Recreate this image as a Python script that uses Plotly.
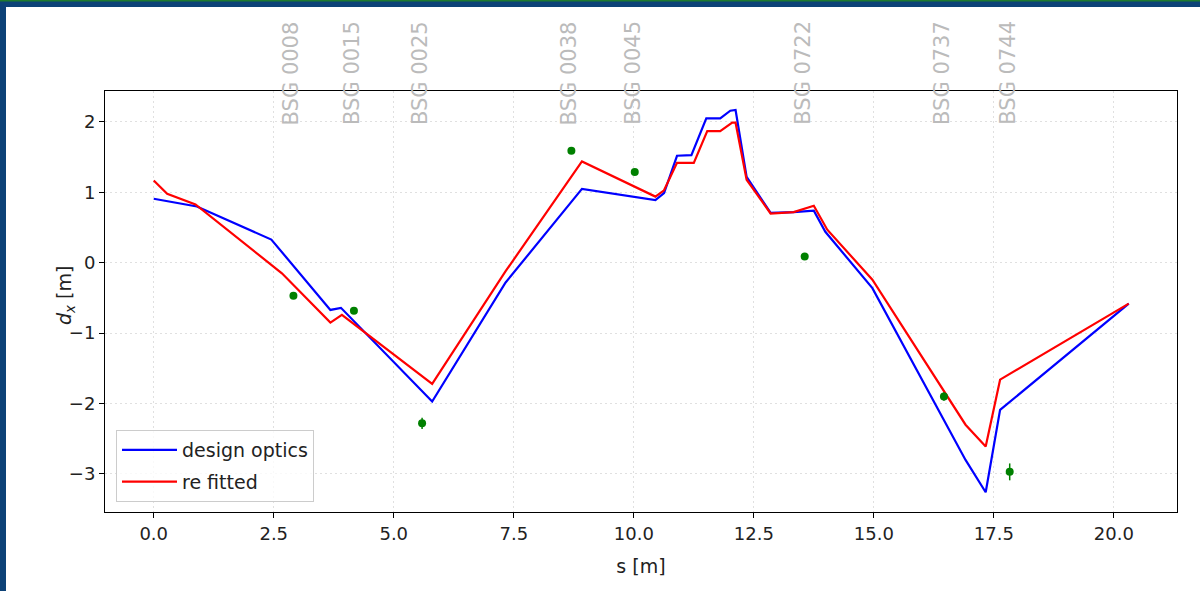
import plotly.graph_objects as go

# ---- data ----
design_s = [0, 0.9, 2.45, 3.68, 3.9, 5.8, 7.33, 8.92, 10.45, 10.63, 10.9, 11.2, 11.51, 11.8, 12.01, 12.12,
            12.35, 12.85, 13.33, 13.75, 13.99, 14.97, 16.91, 17.33, 17.63, 20.31]
design_dx = [0.91, 0.80, 0.33, -0.67, -0.64, -1.97, -0.28, 1.05, 0.89, 0.99, 1.52, 1.53, 2.05, 2.05, 2.16, 2.17,
             1.22, 0.71, 0.72, 0.74, 0.44, -0.36, -2.80, -3.26, -2.09, -0.58]

fit_s = [0, 0.28, 0.87, 2.4, 2.67, 3.68, 3.92, 5.8, 7.33, 8.92, 10.45, 10.63, 10.9, 11.25, 11.53, 11.8, 12.05,
         12.12, 12.35, 12.85, 13.33, 13.75, 14.03, 14.97, 16.91, 17.33, 17.63, 20.31]
fit_dx = [1.17, 0.98, 0.83, 0.0, -0.15, -0.85, -0.74, -1.72, -0.12, 1.44, 0.94, 1.03, 1.42, 1.42, 1.87, 1.87, 1.99,
          1.99, 1.18, 0.70, 0.72, 0.81, 0.47, -0.24, -2.30, -2.61, -1.66, -0.58]

meas_s = [2.91, 4.17, 5.59, 8.70, 10.02, 13.56, 16.46, 17.83]
meas_dx = [-0.47, -0.68, -2.28, 1.59, 1.29, 0.09, -1.90, -2.97]
meas_err = [0.03, 0.03, 0.08, 0.03, 0.02, 0.04, 0.06, 0.12]
meas_names = ["BSG 0008", "BSG 0015", "BSG 0025", "BSG 0038", "BSG 0045", "BSG 0722", "BSG 0737", "BSG 0744"]

x_ticks = [0, 2.5, 5, 7.5, 10, 12.5, 15, 17.5, 20]
x_ticktext = ["0.0", "2.5", "5.0", "7.5", "10.0", "12.5", "15.0", "17.5", "20.0"]
y_ticks = [-3, -2, -1, 0, 1, 2]
y_ticktext = ["\u22123", "\u22122", "\u22121", "0", "1", "2"]

FONT = "DejaVu Sans"
W, H = 1200, 591
ML, MR, MT, MB = 105, 23, 91, 79
PW, PH = W - ML - MR, H - MT - MB


def px2paper_x(px):
    return (px - ML) / PW


def py2paper_y(py):
    return (H - MB - py) / PH


fig = go.Figure()
fig.add_trace(go.Scatter(x=design_s, y=design_dx, mode="lines", name="design optics",
                         line=dict(color="#0000ff", width=2.2), legendgroup="a"))
fig.add_trace(go.Scatter(x=fit_s, y=fit_dx, mode="lines", name="re fitted",
                         line=dict(color="#ff0000", width=2.2), legendgroup="b"))
fig.add_trace(go.Scatter(x=meas_s, y=meas_dx, mode="markers", showlegend=False,
                         marker=dict(color="#008000", size=8),
                         error_y=dict(type="data", array=meas_err, color="#008000", thickness=1.5, width=0)))

for s, name in zip(meas_s, meas_names):
    fig.add_annotation(x=s, y=py2paper_y(127), xref="x", yref="paper", text=name, textangle=-90,
                       showarrow=False, xanchor="center", yanchor="bottom", xshift=-2,
                       font=dict(family=FONT, size=21, color="#bbbbbb"))

# y-axis title (placed as annotation to match position)
fig.add_annotation(x=px2paper_x(65), y=py2paper_y(296), xref="paper", yref="paper",
                   text="<i>d</i><sub><i>x</i></sub> [m]", textangle=-90, showarrow=False,
                   xanchor="center", yanchor="middle", font=dict(family=FONT, size=19, color="#222222"))

# slide frame
shapes = [
    dict(type="rect", xref="paper", yref="paper", x0=px2paper_x(0), x1=px2paper_x(6),
         y0=py2paper_y(591), y1=py2paper_y(0), fillcolor="#0d4277", line=dict(width=0), layer="above"),
    dict(type="rect", xref="paper", yref="paper", x0=px2paper_x(0), x1=px2paper_x(1200),
         y0=py2paper_y(7), y1=py2paper_y(0), fillcolor="#0d4277", line=dict(width=0), layer="above"),
    dict(type="rect", xref="paper", yref="paper", x0=px2paper_x(0), x1=px2paper_x(1200),
         y0=py2paper_y(1.5), y1=py2paper_y(0), fillcolor="#1f7a2e", line=dict(width=0), layer="above"),
]

axis_common = dict(showline=True, linecolor="#000000", linewidth=1, mirror=True,
                   ticks="outside", ticklen=5, tickcolor="#000000", tickwidth=1,
                   showgrid=True, gridcolor="#e0e0e0", griddash="2px,3px", gridwidth=1,
                   zeroline=False, tickfont=dict(family=FONT, size=18, color="#222222"))

fig.update_layout(
    width=W, height=H, margin=dict(l=ML, r=MR, t=MT, b=MB, autoexpand=False),
    paper_bgcolor="#ffffff", plot_bgcolor="#ffffff",
    shapes=shapes,
    xaxis=dict(range=[-1.015, 21.315], tickvals=x_ticks, ticktext=x_ticktext,
               title=dict(text="s [m]", font=dict(family=FONT, size=19, color="#222222"), standoff=17),
               **axis_common),
    yaxis=dict(range=[-3.54, 2.44], tickvals=y_ticks, ticktext=y_ticktext, **axis_common),
    legend=dict(x=px2paper_x(116), y=py2paper_y(502), xanchor="left", yanchor="bottom",
                bgcolor="rgba(255,255,255,0.8)", bordercolor="#cccccc", borderwidth=1,
                font=dict(family=FONT, size=19, color="#222222"), tracegroupgap=4, traceorder="grouped",
                itemwidth=55),
    showlegend=True,
)

fig.write_html("out.html", config={"displayModeBar": False},
               post_script="document.body.style.margin='0';")
